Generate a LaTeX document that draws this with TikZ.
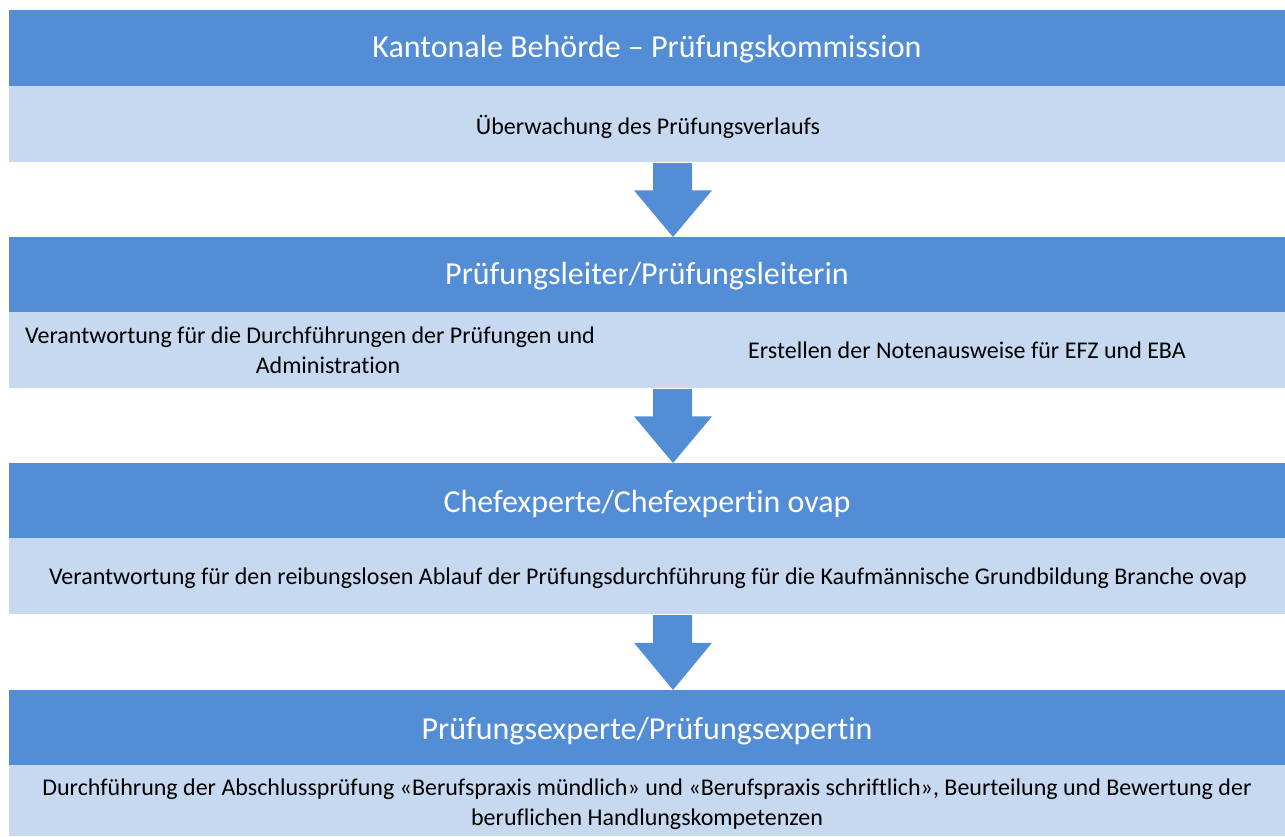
\documentclass[tikz,border=0pt]{standalone}
\usepackage{fontspec}
\setmainfont{Carlito}[Ligatures=NoCommon]
\definecolor{hdr}{RGB}{83,141,213}
\definecolor{lite}{RGB}{198,217,240}
\definecolor{txt}{RGB}{0,0,0}
\begin{document}
\begin{tikzpicture}[x=1pt,y=-1pt,
  hdrbox/.style={fill=hdr,draw=none},
  litebox/.style={fill=lite,draw=none},
  hdrtext/.style={text=white,font=\fontsize{32}{38}\selectfont,inner sep=0pt},
  bodytext/.style={text=txt,font=\fontsize{24}{30}\selectfont,inner sep=0pt,align=center},
  downarrow/.style={fill=hdr,draw=none}]
\useasboundingbox (0,0) rectangle (1285,836);
% band 1
\fill[hdrbox] (9,10) rectangle (1285,86);
\fill[litebox] (9,86) rectangle (1285,162);
\node[hdrtext] (h1) at (647,49) {Kantonale Behörde – Prüfungskommission};
\node[bodytext] (b1) at (648,127) {Überwachung des Prüfungsverlaufs};
% band 2
\fill[hdrbox] (9,237) rectangle (1285,312);
\fill[litebox] (9,312) rectangle (1285,388);
\node[hdrtext] (h2) at (647,276) {Prüfungsleiter/Prüfungsleiterin};
\node[bodytext] (b2a) at (328,350) {Verantwortung für die Durchführungen der Prüfungen und\hspace*{36pt}\\ Administration};
\node[bodytext] (b2b) at (967,350) {Erstellen der Notenausweise für EFZ und EBA};
% band 3
\fill[hdrbox] (9,463) rectangle (1285,538);
\fill[litebox] (9,538) rectangle (1285,614);
\node[hdrtext] (h3) at (647,504) {Chefexperte/Chefexpertin ovap};
\node[bodytext] (b3) at (648,578) {Verantwortung für den reibungslosen Ablauf der Prüfungsdurchführung für die Kaufmännische Grundbildung Branche ovap};
% band 4
\fill[hdrbox] (9,690) rectangle (1285,765);
\fill[litebox] (9,765) rectangle (1285,836);
\node[hdrtext] (h4) at (647,731) {Prüfungsexperte/Prüfungsexpertin};
\node[bodytext] (b4) at (647,804) {Durchführung der Abschlussprüfung «Berufspraxis mündlich» und «Berufspraxis schriftlich», Beurteilung und Bewertung der\\ beruflichen Handlungskompetenzen};
% arrows
\foreach \t/\b in {163/237, 389/463, 615/690}{
  \pgfmathsetmacro{\m}{\t+(\b-\t)*0.37}
  \fill[downarrow] (653,\t) -- (692,\t) -- (692,\m) -- (712,\m) -- (673,\b) -- (634,\m) -- (653,\m) -- cycle;
}
\end{tikzpicture}
\end{document}
